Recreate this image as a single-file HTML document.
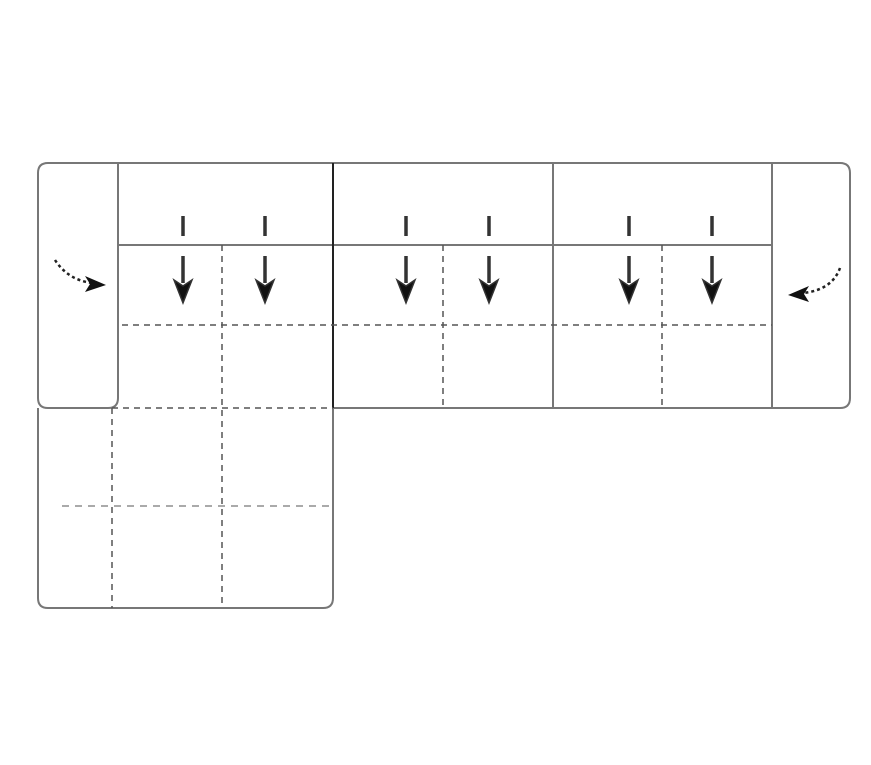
<!DOCTYPE html>
<html><head><style>html,body{margin:0;padding:0;background:#fff}</style></head>
<body>
<svg width="871" height="760" viewBox="0 0 871 760" xmlns="http://www.w3.org/2000/svg">
<g fill="none" stroke="#777" stroke-width="2">
  <path d="M118 163 H48 Q38 163 38 173 V398 Q38 408 48 408 H108 Q118 408 118 398 V163"/>
  <path d="M118 163 H840 Q850 163 850 173 V398 Q850 408 840 408 H333"/>
  <line x1="118" y1="245" x2="772" y2="245"/>
  <line x1="553" y1="163" x2="553" y2="408"/>
  <line x1="772" y1="163" x2="772" y2="408"/>
  <path d="M38 408 V598 Q38 608 48 608 H323 Q333 608 333 598 V408"/>
</g>
<line x1="333" y1="163" x2="333" y2="408" stroke="#222" stroke-width="2"/>
<g fill="none" stroke="#555" stroke-width="1.5" stroke-dasharray="6,5">
  <line x1="122" y1="325" x2="772" y2="325"/>
  <line x1="112" y1="408" x2="333" y2="408"/>
  <line x1="222" y1="245" x2="222" y2="608"/>
  <line x1="443" y1="245" x2="443" y2="408"/>
  <line x1="662" y1="245" x2="662" y2="408"/>
  <line x1="112" y1="408" x2="112" y2="608"/>
</g>
<line x1="62" y1="506" x2="333" y2="506" stroke="#aaa" stroke-width="2" stroke-dasharray="7,6"/>
<g stroke="#333" stroke-width="3.5" fill="#111">
  <g id="a">
    <line x1="183" y1="216" x2="183" y2="236"/>
    <line x1="183" y1="256" x2="183" y2="283"/>
    <path d="M174 280 L183 286 L192 280 L183 303 Z" stroke-width="1.5"/>
  </g>
  <use href="#a" x="82"/>
  <use href="#a" x="223"/>
  <use href="#a" x="306"/>
  <use href="#a" x="446"/>
  <use href="#a" x="529"/>
</g>
<g fill="none" stroke="#222" stroke-width="2.5" stroke-dasharray="3,3">
  <path d="M55 260 Q68 280 92 283"/>
  <path d="M840 268 Q832 290 803 293"/>
</g>
<path d="M106 285 L85 276 L90 284 L85 292 Z" fill="#111"/>
<path d="M788 295 L809 286 L804 294 L809 302 Z" fill="#111"/>
</svg>
</body></html>
